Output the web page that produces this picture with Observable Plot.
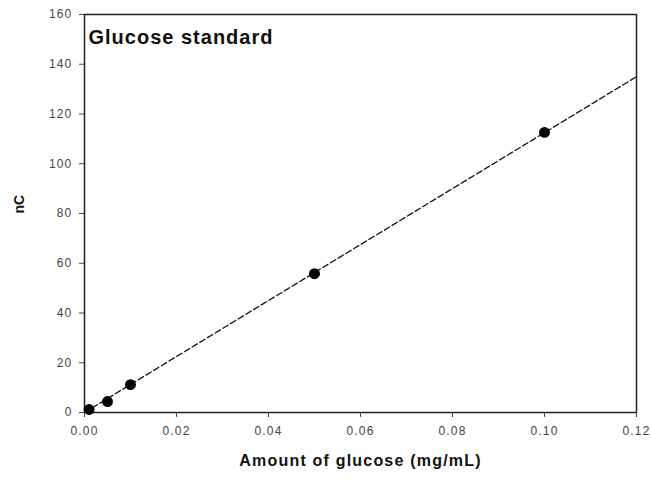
<!DOCTYPE html>
<html><head><meta charset="utf-8">
<script src="https://cdn.jsdelivr.net/npm/d3@7"></script>
<script src="https://cdn.jsdelivr.net/npm/@observablehq/plot@0.6"></script>
<style>
body{margin:0;background:#fff;font-family:"Liberation Sans",Arial,sans-serif}
g[aria-label="x-axis tick label"] text, g[aria-label="y-axis tick label"] text{letter-spacing:1.2px}
g.title text{letter-spacing:1px}
g.xlab text{letter-spacing:1.2px}
</style>
</head><body><div id="chart"></div>
<script>
const amount = [0.001, 0.005, 0.01, 0.05, 0.1];
const nC = [1.2, 4.4, 11.2, 55.8, 112.6];
const fitX = [0, 0.12];
const fitY = [0, 135];
const xTicks = [0, 0.02, 0.04, 0.06, 0.08, 0.10, 0.12];
const yTicks = [0, 20, 40, 60, 80, 100, 120, 140, 160];
const title = "Glucose standard";
const xLabel = "Amount of glucose (mg/mL)";
const yLabel = "nC";

const points = amount.map((a, i) => ({x: a, y: nC[i]}));
const fit = fitX.map((a, i) => ({x: a, y: fitY[i]}));

const chart = Plot.plot({
  width: 651, height: 480,
  marginLeft: 84, marginRight: 15, marginTop: 14, marginBottom: 68,
  style: {fontFamily: "Liberation Sans, Arial, sans-serif", background: "#fff"},
  x: {domain: [0, 0.12]},
  y: {domain: [0, 160]},
  marks: [
    Plot.frame({stroke: "#222", strokeWidth: 1.5}),
    Plot.axisX({ticks: xTicks, tickFormat: d3.format(".2f"), tickSize: 5, tickPadding: 9, fontSize: 12, color: "#444", label: null}),
    Plot.axisY({ticks: yTicks, tickFormat: d3.format("d"), tickSize: 5, tickPadding: 7, fontSize: 12, color: "#444", label: null}),
    Plot.line(fit, {x: "x", y: "y", stroke: "#111", strokeWidth: 1.3, strokeDasharray: "6,3"}),
    Plot.dot(points, {x: "x", y: "y", r: 4.7, fill: "#000", stroke: "#000"}),
    Plot.text([title], {frameAnchor: "top-left", dx: 4, dy: 15, text: d => d, fontSize: 20, fontWeight: "bold", fill: "#111", textAnchor: "start", className: "title"}),
    Plot.text([xLabel], {frameAnchor: "bottom", dy: 53, text: d => d, fontSize: 16, fontWeight: "bold", fill: "#111", className: "xlab"}),
    Plot.text([yLabel], {frameAnchor: "left", dx: -65, text: d => d, fontSize: 14, fontWeight: "bold", fill: "#111", rotate: -90})
  ]
});
document.getElementById("chart").appendChild(chart);
</script></body></html>
